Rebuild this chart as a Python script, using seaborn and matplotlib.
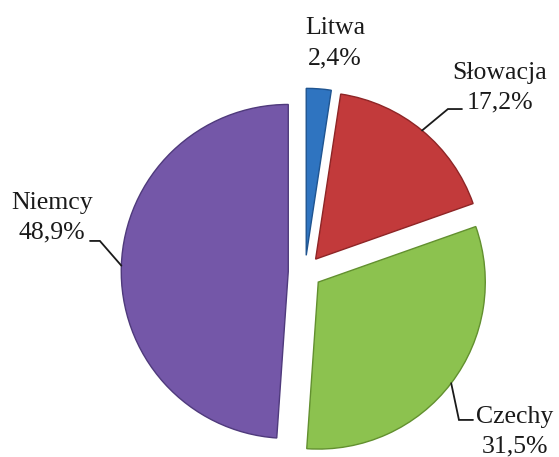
import numpy as np
import matplotlib
matplotlib.use("Agg")
import matplotlib.pyplot as plt
import seaborn as sns

# Udział krajów (%), kolejność zgodnie z ruchem wskazówek zegara od godziny 12
COUNTRIES = ["Litwa", "Słowacja", "Czechy", "Niemcy"]
SHARES = [2.4, 17.2, 31.5, 48.9]
PERCENT_LABELS = ["2,4%", "17,2%", "31,5%", "48,9%"]
COLORS = ["#2f74c0", "#c23a3b", "#8cc24f", "#7457a8"]
EDGE_COLORS = ["#1f5490", "#8e2526", "#62902f", "#4f3a7c"]


def create_pie_chart(output_path: str):
    """Draws the exploded pie chart with leader-line labels."""
    sns.set_theme(style="white")
    plt.rcParams['font.family'] = ['Liberation Serif', 'DejaVu Serif']

    fig = plt.figure(figsize=(5.59, 4.57), dpi=100)
    ax = fig.add_axes([0, 0, 1, 1])

    explode = [0.1] * len(SHARES)
    wedges, _ = ax.pie(
        SHARES,
        colors=COLORS,
        startangle=90,
        counterclock=False,
        explode=explode,
        radius=1.0,
        wedgeprops=dict(linewidth=1.0),
    )
    for wedge, ec in zip(wedges, EDGE_COLORS):
        wedge.set_edgecolor(ec)

    ax.set_aspect('auto')
    ax.set_xlim(-1.826, 1.521)
    ax.set_ylim(-1.108, 1.629)
    ax.axis('off')

    # label block centres and leader line elbows (data units)
    label_pos = {
        "Litwa": (0.180, 1.370),
        "Słowacja": (1.168, 1.105),
        "Czechy": (1.257, -0.955),
        "Niemcy": (-1.515, 0.326),
    }
    leaders = {
        "Słowacja": [(0.856, 0.976), (0.940, 0.976)],
        "Czechy": [(0.922, -0.886), (1.006, -0.886)],
        "Niemcy": [(-1.228, 0.186), (-1.287, 0.186)],
    }

    for wedge, name, pct in zip(wedges, COUNTRIES, PERCENT_LABELS):
        mid = np.deg2rad((wedge.theta1 + wedge.theta2) / 2)
        cx, cy = wedge.center
        x, y = label_pos[name]
        ax.text(x, y, f"{name}\n{pct}", ha='center', va='center',
                fontsize=18.5, color="#1a1a1a", linespacing=1.45)
        if name in leaders:
            start = (cx + wedge.r * np.cos(mid), cy + wedge.r * np.sin(mid))
            pts = [start] + leaders[name]
            ax.plot([p[0] for p in pts], [p[1] for p in pts],
                    color="#1a1a1a", lw=1.3, solid_joinstyle='miter')

    fig.savefig(output_path, dpi=100)
    plt.close(fig)


def main():
    create_pie_chart("out.png")


if __name__ == '__main__':
    main()
